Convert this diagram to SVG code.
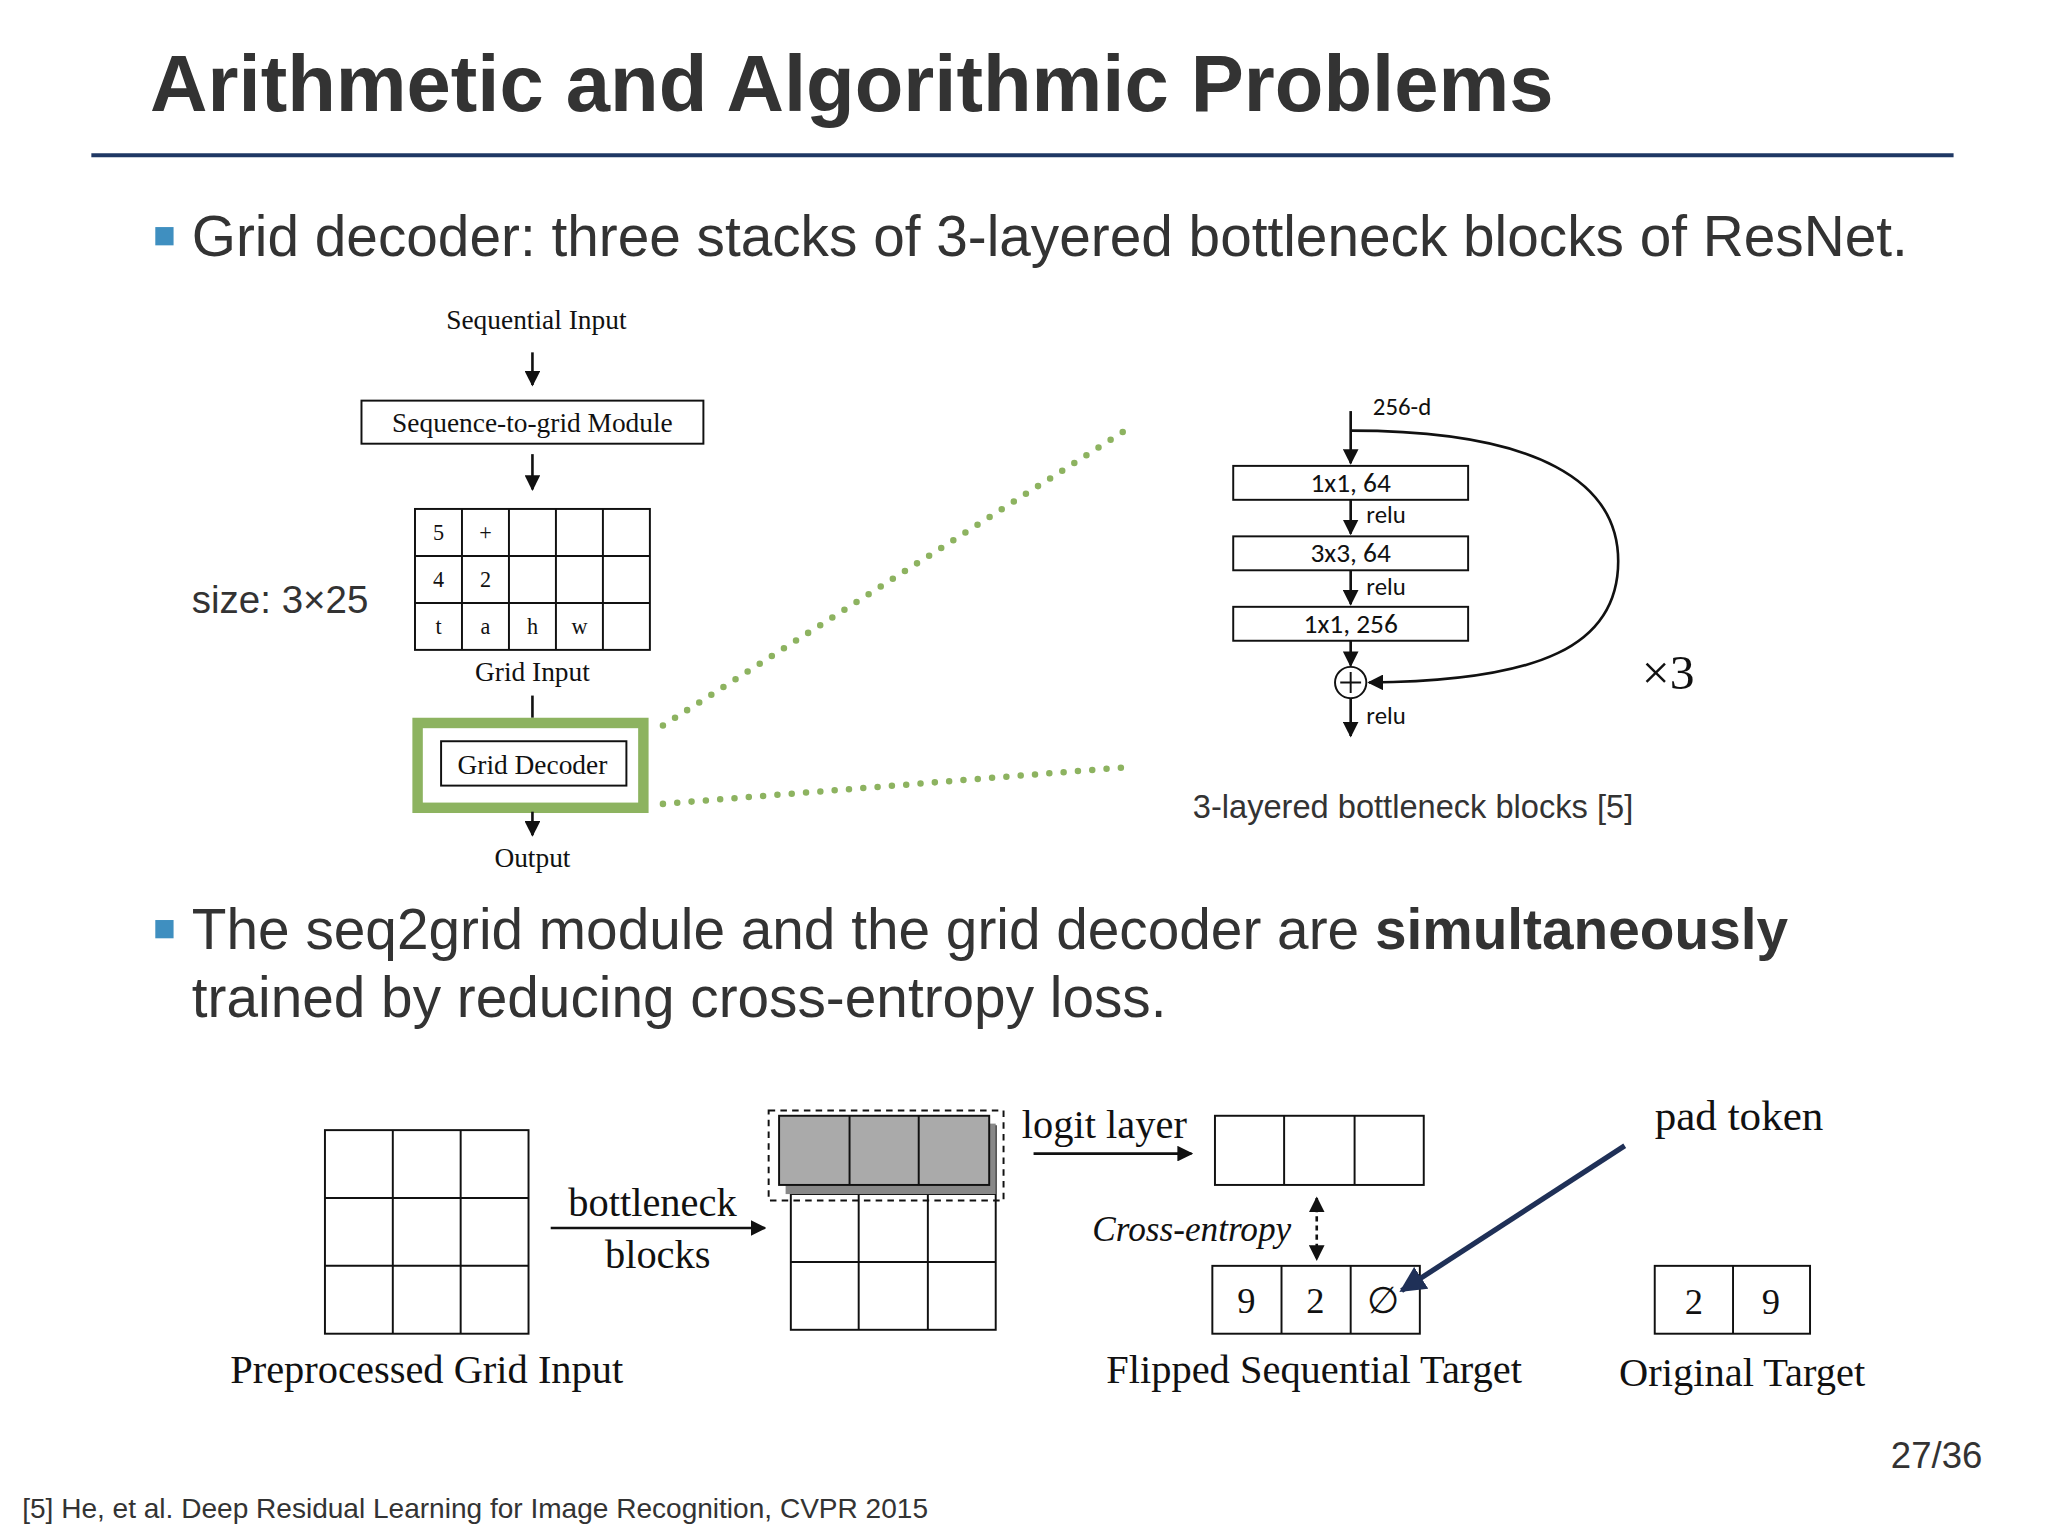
<svg xmlns="http://www.w3.org/2000/svg" width="2048" height="1536" viewBox="0 0 2048 1536">
<defs>
<style>
.s{font-family:"Liberation Sans",Arial,sans-serif;fill:#333}
.r{font-family:"Liberation Serif","Times New Roman",serif;fill:#111}
.b{fill:none;stroke:#111;stroke-width:1.5}
.ln{stroke:#111;stroke-width:2;fill:none}
.dot{stroke:#8db360;stroke-width:5;stroke-linecap:round;stroke-dasharray:0 11;fill:none}
</style>
<marker id="a" viewBox="0 0 10 10" refX="9" refY="5" markerWidth="6" markerHeight="6" orient="auto-start-reverse"><path d="M0,0L10,5L0,10z" fill="#111"/></marker>
<marker id="an" viewBox="0 0 10 10" refX="9" refY="5" markerWidth="5" markerHeight="5" orient="auto"><path d="M0,0L10,5L0,10z" fill="#1f3057"/></marker>
</defs>
<rect width="2048" height="1536" fill="#fff"/>
<g transform="scale(1.305)">
<text class="s" x="115" y="85" font-size="61" font-weight="bold">Arithmetic and Algorithmic Problems</text>
<line x1="70" y1="119" x2="1497" y2="119" stroke="#1f3864" stroke-width="3"/>
<rect x="119" y="174" width="14" height="14" fill="#3f8fc0"/>
<text class="s" x="147" y="196" font-size="43.5">Grid decoder: three stacks of 3-layered bottleneck blocks of ResNet.</text>

<g id="left">
<text class="r" x="411" y="252" font-size="21" text-anchor="middle">Sequential Input</text>
<line class="ln" x1="408" y1="270" x2="408" y2="295" marker-end="url(#a)"/>
<g id="s2g"><rect class="b" x="277" y="307" width="262" height="33"/><text class="r" x="408" y="331" font-size="21" text-anchor="middle">Sequence-to-grid Module</text></g>
<line class="ln" x1="408" y1="348" x2="408" y2="375" marker-end="url(#a)"/>
<g id="gridin" class="r" font-size="17" text-anchor="middle">
<rect class="b" x="318" y="390" width="180" height="108"/>
<path class="b" d="M354,390V498M390,390V498M426,390V498M462,390V498M318,426H498M318,462H498"/>
<text x="336" y="414">5</text><text x="372" y="414">+</text>
<text x="336" y="450">4</text><text x="372" y="450">2</text>
<text x="336" y="486">t</text><text x="372" y="486">a</text><text x="408" y="486">h</text><text x="444" y="486">w</text>
</g>
<text class="s" x="147" y="470" font-size="29.5" fill="#111">size: 3×25</text>
<text class="r" x="408" y="522" font-size="21" text-anchor="middle">Grid Input</text>
<line class="ln" x1="408" y1="533" x2="408" y2="550"/>
<g id="gd"><rect x="320" y="554" width="173" height="65" fill="none" stroke="#8db360" stroke-width="8"/><rect class="b" x="338" y="568" width="142" height="34"/><text class="r" x="408" y="593" font-size="21" text-anchor="middle">Grid Decoder</text></g>
<line class="ln" x1="408" y1="622" x2="408" y2="640" marker-end="url(#a)"/>
<text class="r" x="408" y="664" font-size="21" text-anchor="middle">Output</text>
<path class="dot" d="M508,556L862,330M508,616L862,588"/>
</g>

<g id="bottleneck" font-family="Calibri,'Liberation Sans',sans-serif" fill="#111">
<line class="ln" x1="1035" y1="315" x2="1035" y2="355" marker-end="url(#a)"/>
<text x="1052" y="318" font-size="19">256-d</text>
<rect class="b" x="945" y="357" width="180" height="26" stroke-width="2"/><text x="1035" y="377" font-size="21" text-anchor="middle">1x1, 64</text>
<line class="ln" x1="1035" y1="383" x2="1035" y2="409" marker-end="url(#a)"/><text x="1047" y="401" font-size="19">relu</text>
<rect class="b" x="945" y="411" width="180" height="26" stroke-width="2"/><text x="1035" y="431" font-size="21" text-anchor="middle">3x3, 64</text>
<line class="ln" x1="1035" y1="437" x2="1035" y2="463" marker-end="url(#a)"/><text x="1047" y="456" font-size="19">relu</text>
<rect class="b" x="945" y="465" width="180" height="26" stroke-width="2"/><text x="1035" y="485" font-size="21" text-anchor="middle">1x1, 256</text>
<line class="ln" x1="1035" y1="491" x2="1035" y2="510" marker-end="url(#a)"/>
<circle cx="1035" cy="523" r="12" class="b"/><path class="b" d="M1027,523H1043M1035,515V531"/>
<line class="ln" x1="1035" y1="535" x2="1035" y2="564" marker-end="url(#a)"/><text x="1047" y="555" font-size="19">relu</text>
<path class="ln" d="M1035,330C1180,330 1240,370 1240,430C1240,495 1180,522 1049,523" marker-end="url(#a)"/>
</g>
<text class="r" x="1258" y="528" font-size="38" fill="#111">×3</text>
<text class="s" x="914" y="627" font-size="25" fill="#111">3-layered bottleneck blocks [5]</text>

<rect x="119" y="705" width="14" height="14" fill="#3f8fc0"/>
<text class="s" x="147" y="727" font-size="43.5">The seq2grid module and the grid decoder are <tspan font-weight="bold">simultaneously</tspan></text>
<text class="s" x="147" y="779" font-size="43.5">trained by reducing cross-entropy loss.</text>

<g id="pre">
<rect class="b" x="249" y="866" width="156" height="156" stroke-width="2"/>
<path class="b" stroke-width="2" d="M301,866V1022M353,866V1022M249,918H405M249,970H405"/>
<text class="r" x="327" y="1060" font-size="31" text-anchor="middle">Preprocessed Grid Input</text>
</g>
<text class="r" x="500" y="932" font-size="31" text-anchor="middle">bottleneck</text>
<text class="r" x="504" y="972" font-size="31" text-anchor="middle">blocks</text>
<line class="ln" stroke-width="4" x1="422" y1="941" x2="586" y2="941" marker-end="url(#a)"/>
<g id="out">
<rect class="b" x="606" y="863" width="157" height="156" stroke-width="2"/>
<path class="b" stroke-width="2" d="M658,863V1019M711,863V1019M606,915H763M606,967H763"/>
<rect x="602" y="861" width="161" height="54" fill="#888"/>
<rect x="597" y="855" width="161" height="53" fill="#aaa" stroke="#111" stroke-width="1.5"/>
<path class="b" d="M651,855V908M704,855V908"/>
<rect x="589" y="851" width="180" height="69" fill="none" stroke="#111" stroke-width="1.5" stroke-dasharray="5 4"/>
</g>
<text class="r" x="783" y="872" font-size="31">logit layer</text>
<line class="ln" stroke-width="4" x1="792" y1="884" x2="913" y2="884" marker-end="url(#a)"/>
<g id="logit"><rect class="b" x="931" y="855" width="160" height="53" stroke-width="2"/><path class="b" stroke-width="2" d="M984,855V908M1038,855V908"/></g>
<text class="r" x="837" y="951" font-size="27" font-style="italic">Cross-entropy</text>
<line class="ln" stroke-width="2.5" stroke-dasharray="4 3" x1="1009" y1="918" x2="1009" y2="965" marker-start="url(#a)" marker-end="url(#a)"/>
<g id="flipped" class="r" font-size="28" text-anchor="middle">
<rect class="b" x="929" y="970" width="159" height="52" stroke-width="2"/><path class="b" stroke-width="2" d="M982,970V1022M1035,970V1022"/>
<text x="955" y="1006">9</text><text x="1008" y="1006">2</text><text x="1060" y="1006">∅</text>
<text x="1007" y="1060" font-size="31">Flipped Sequential Target</text>
</g>
<line x1="1245" y1="878" x2="1074" y2="989" stroke="#1f3057" stroke-width="4" marker-end="url(#an)"/>
<text class="r" x="1268" y="866" font-size="33">pad token</text>
<g id="orig" class="r" font-size="28" text-anchor="middle">
<rect class="b" x="1268" y="970" width="119" height="52" stroke-width="2"/><path class="b" stroke-width="2" d="M1328,970V1022"/>
<text x="1298" y="1007">2</text><text x="1357" y="1007">9</text>
<text x="1335" y="1062" font-size="31">Original Target</text>
</g>
<text class="s" x="1519" y="1125" font-size="28" text-anchor="end" fill="#111">27/36</text>
<text class="s" x="17" y="1163" font-size="21.5" fill="#111">[5] He, et al. Deep Residual Learning for Image Recognition, CVPR 2015</text>
</g>
</svg>
